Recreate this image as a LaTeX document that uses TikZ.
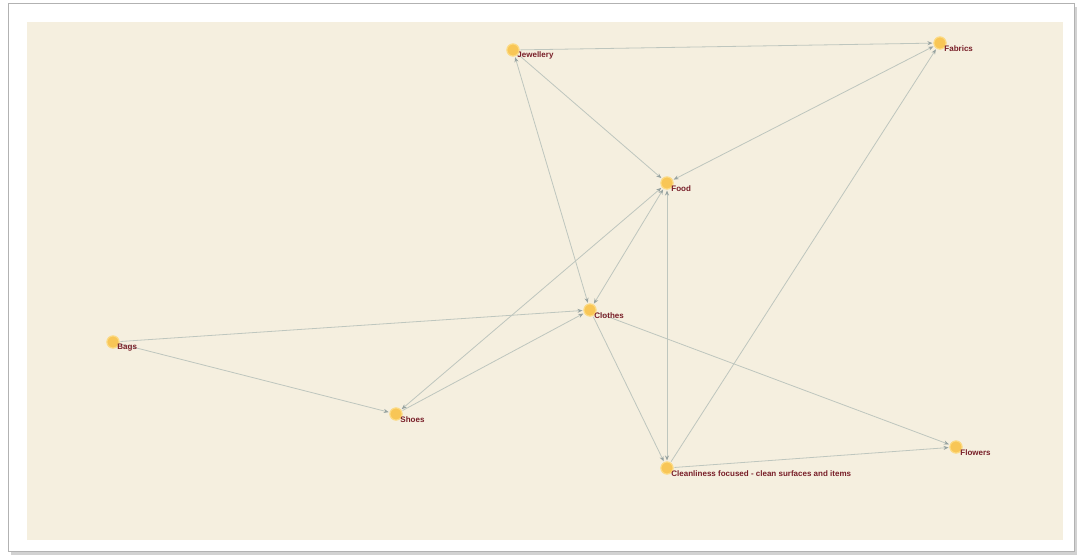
\documentclass[tikz,border=0pt]{standalone}
\usepackage{fontspec}
\setmainfont{Liberation Sans}
\usetikzlibrary{arrows.meta,shadows}
\definecolor{paper}{RGB}{245,239,223}
\definecolor{edgegray}{RGB}{190,198,190}
\definecolor{tipgray}{RGB}{150,162,160}
\definecolor{dotfill}{RGB}{248,198,86}
\definecolor{dotring}{RGB}{252,218,130}
\definecolor{labelred}{RGB}{120,30,40}

\begin{document}
\begin{tikzpicture}[
  x=1pt, y=-1pt,
  dot/.style={
    circle, fill=dotfill, draw=dotring, line width=1pt,
    minimum size=12pt, inner sep=0pt
  },
  lbl/.style={
    font=\fontsize{8}{9}\selectfont\bfseries, text=labelred,
    anchor=west, inner sep=1pt
  },
  link/.style={draw=edgegray, line width=0.8pt, shorten >=1pt, shorten <=1pt},
  arr/.style={link, -{Stealth[length=5pt,width=4pt,color=tipgray]}},
  both/.style={link, {Stealth[length=5pt,width=4pt,color=tipgray]}-{Stealth[length=5pt,width=4pt,color=tipgray]}},
]

\useasboundingbox (0,0) rectangle (1080,560);
\fill[white] (0,0) rectangle (1080,560);
\draw[gray!60, line width=0.8pt, drop shadow={shadow xshift=3pt, shadow yshift=-4pt, opacity=0.35}, fill=white]
  (8,3) rectangle (1074,551);
\fill[paper] (27,22) rectangle (1063,540);

% nodes
\node[dot] (jew) at (513,50) {};
\node[dot] (fab) at (940,43) {};
\node[dot] (food) at (667,183) {};
\node[dot] (clo) at (590,310) {};
\node[dot] (bags) at (113,342) {};
\node[dot] (shoes) at (396,414) {};
\node[dot] (clean) at (667,468) {};
\node[dot] (flow) at (956,447) {};

% links
\draw[arr]  (jew) -- (fab);
\draw[arr]  (jew) -- (food);
\draw[both] (jew) -- (clo);
\draw[both] (fab) -- (food);
\draw[arr]  (clean) -- (fab);
\draw[both] (food) -- (clo);
\draw[both] (food) -- (shoes);
\draw[both] (clean) -- (food);
\draw[arr]  (clo) -- (clean);
\draw[arr]  (bags) -- (clo);
\draw[arr]  (shoes) -- (clo);
\draw[arr]  (bags) -- (shoes);
\draw[arr]  (clo) -- (flow);
\draw[arr]  (clean) -- (flow);

% dots and labels on top of the links
\foreach \n/\t in {jew/Jewellery, fab/Fabrics, food/Food, clo/Clothes, bags/Bags,
  shoes/Shoes, clean/Cleanliness focused - clean surfaces and items, flow/Flowers}
  \node[dot, label={[lbl]-60:\t}] at (\n) {};

\end{tikzpicture}
\end{document}
